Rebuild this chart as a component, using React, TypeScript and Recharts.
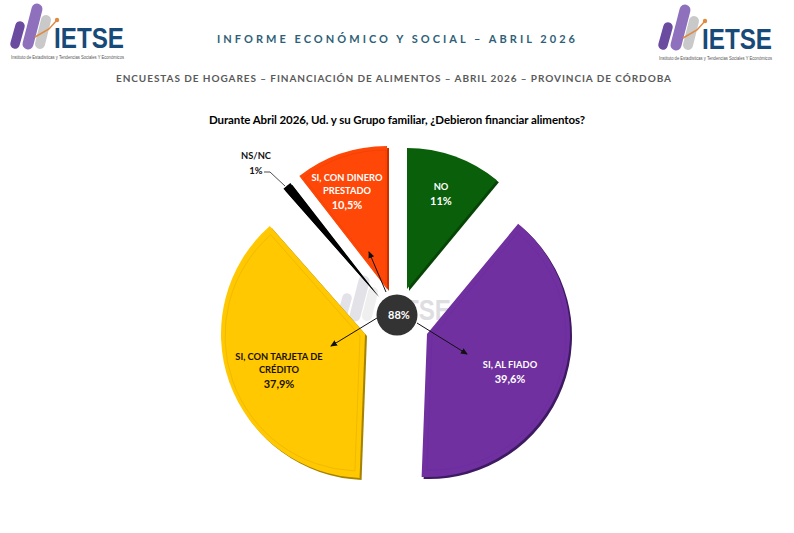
import { PieChart, Pie, Cell } from 'recharts';

const NAMES = ['NO', 'SI, AL FIADO', 'SI, CON TARJETA DE CRÉDITO', 'NS/NC', 'SI, CON DINERO PRESTADO'];
const VALUES = [11, 39.6, 37.9, 1, 10.5];
const VALUE_LABELS = ['11%', '39,6%', '37,9%', '1%', '10,5%'];
const LABEL_LINES = [['NO'], ['SI, AL FIADO'], ['SI, CON TARJETA DE', 'CRÉDITO'], ['NS/NC'], ['SI, CON DINERO', 'PRESTADO']];
const FILLS = ['#0A5F0A', '#7030A0', '#FFC800', '#000000', '#FF4708'];
const EDGES = ['#074507', '#3E1A63', '#A58200', '#000000', '#C93000'];
const BEVELS = ['#0A5F0A', '#682CA0', '#E8B400', '#000000', '#EE4000'];
const TEXT_COLORS = ['#FFFFFF', '#FFFFFF', '#201000', '#111111', '#FFFFFF'];

const data = NAMES.map((name, i) => ({ name, value: VALUES[i] }));

// exploded slices: each one gets its own pie centre
const CENTERS = [[407, 289], [427, 334], [365, 334], [378, 296], [387, 289]];
const RADII = [141, 143, 144, 143, 143];
const BEVEL_SHIFT = [[0, 0], [5, 2], [-5, 2], [0, 0], [-1, -5]];
const LABEL_POS = [[441, 187], [510, 365], [279, 357], [256, 156], [347, 178]];

const FONT = 'Lato, "Open Sans", sans-serif';

const Logo = ({ x, y, watermark }: { x: number; y: number; watermark?: boolean }) => (
  <g transform={`translate(${x},${y})`} opacity={watermark ? 0.28 : 1}>
    <line x1={15} y1={44} x2={20} y2={26} stroke={watermark ? '#9a9ab0' : '#6B4BA0'} strokeWidth={9.5} strokeLinecap="round" />
    <line x1={40} y1={44} x2={46} y2={20} stroke="#C9C9C9" strokeWidth={10} strokeLinecap="round" />
    <line x1={28} y1={44} x2={37} y2={9} stroke={watermark ? '#9a9ab0' : '#8E70BC'} strokeWidth={11} strokeLinecap="round" />
    {!watermark && <polyline points="35,37 49,29 57,20" fill="none" stroke="#E08A40" strokeWidth={1.5} />}
    {!watermark && <circle cx={57} cy={20} r={2.2} fill="#E08A40" />}
    <text x={54} y={48} fontFamily="Liberation Sans, sans-serif" fontWeight={700} fontSize={29}
      fill={watermark ? '#8a8a9a' : '#174A78'} textLength={70} lengthAdjust="spacingAndGlyphs">IETSE</text>
    {!watermark && (
      <text x={11} y={59} fontFamily="Liberation Sans, sans-serif" fontSize={4.6} fill="#555"
        textLength={113} lengthAdjust="spacingAndGlyphs">Instituto de Estadísticas y Tendencias Sociales Y Económicos</text>
    )}
  </g>
);

const layer = { position: 'absolute', left: 0, top: 0 } as const;

export default function App() {
  const pie = (i: number, cx: number, cy: number, r: number, colors: string[], key: string, outline?: boolean, withLabel?: boolean) => (
    <Pie
      key={key}
      data={data}
      dataKey="value"
      nameKey="name"
      cx={cx}
      cy={cy}
      innerRadius={0}
      outerRadius={r}
      startAngle={90}
      endAngle={-270}
      stroke="none"
      isAnimationActive={false}
      labelLine={false}
      label={withLabel ? (p: any) => {
        if (p.index !== i) return null;
        const [lx, ly] = LABEL_POS[i];
        const lines = LABEL_LINES[i];
        return (
          <text x={lx} textAnchor="middle" fontFamily={FONT} fontWeight={700} fill={TEXT_COLORS[i]}>
            {lines.map((l, n) => (
              <tspan key={n} x={lx} y={ly + 3 + n * 12.5} fontSize={9.3}>{l}</tspan>
            ))}
            <tspan x={lx} y={ly + 4.5 + lines.length * 13} fontSize={i === 3 ? 9.5 : 11}>{VALUE_LABELS[i]}</tspan>
          </text>
        );
      } : false}
    >
      {data.map((d, n) => (
        <Cell
          key={d.name}
          fill={n === i && !outline ? colors[i] : 'none'}
          stroke={n === i && outline ? colors[i] : 'none'}
          strokeWidth={n === i && outline ? 0.7 : 0}
        />
      ))}
    </Pie>
  );

  return (
    <div style={{ ...layer, width: 794, height: 533, background: '#fff', overflow: 'hidden' }}>
      <svg width={794} height={533} style={layer}>
        <Logo x={0} y={0} />
        <Logo x={648} y={1} />
        <Logo x={327} y={272} watermark />
        <text x={217} y={43} fontFamily={FONT} fontWeight={700} fontSize={11} fill="#2F5F78"
          textLength={358}>INFORME ECONÓMICO Y SOCIAL – ABRIL 2026</text>
        <text x={116} y={82} fontFamily={FONT} fontWeight={700} fontSize={10} fill="#5A5A5A"
          textLength={555}>ENCUESTAS DE HOGARES – FINANCIACIÓN DE ALIMENTOS – ABRIL 2026 – PROVINCIA DE CÓRDOBA</text>
        <text x={209} y={124} fontFamily={FONT} fontWeight={700} fontSize={11.5} fill="#000"
          textLength={376}>Durante Abril 2026, Ud. y su Grupo familiar, ¿Debieron financiar alimentos?</text>
      </svg>

      <div style={layer}>
        <PieChart width={794} height={533} margin={{ top: 0, right: 0, bottom: 0, left: 0 }}>
          {NAMES.map((_, i) => pie(i, CENTERS[i][0] + 2, CENTERS[i][1] + 2, RADII[i], EDGES, `edge-${i}`))}
          {NAMES.map((_, i) => pie(i, CENTERS[i][0], CENTERS[i][1], RADII[i], FILLS, `face-${i}`, false, true))}
          {NAMES.map((_, i) => i === 1 || i === 2 || i === 4
            ? pie(i, CENTERS[i][0] + BEVEL_SHIFT[i][0], CENTERS[i][1] + BEVEL_SHIFT[i][1], RADII[i] - 9, BEVELS, `bevel-${i}`, true)
            : null)}
        </PieChart>
      </div>

      <svg width={794} height={533} style={layer}>
        <defs>
          <marker id="arrow" markerWidth={8} markerHeight={8} refX={6} refY={3} orient="auto" markerUnits="userSpaceOnUse">
            <path d="M0,0 L7,3 L0,6 Z" fill="#111" />
          </marker>
        </defs>
        <line x1={386} y1={292} x2={369} y2={252} stroke="#111" strokeWidth={1} markerEnd="url(#arrow)" />
        <line x1={377} y1={318} x2={331} y2={346} stroke="#111" strokeWidth={1} markerEnd="url(#arrow)" />
        <line x1={417} y1={323} x2={467} y2={354} stroke="#111" strokeWidth={1} markerEnd="url(#arrow)" />
        <polyline points="264,172 270,172 285,186" fill="none" stroke="#222" strokeWidth={0.8} />
        <circle cx={397} cy={315} r={20.5} fill="#333333" />
        <text x={399} y={319} textAnchor="middle" fontFamily={FONT} fontWeight={700} fontSize={11} fill="#fff">88%</text>
      </svg>
    </div>
  );
}
